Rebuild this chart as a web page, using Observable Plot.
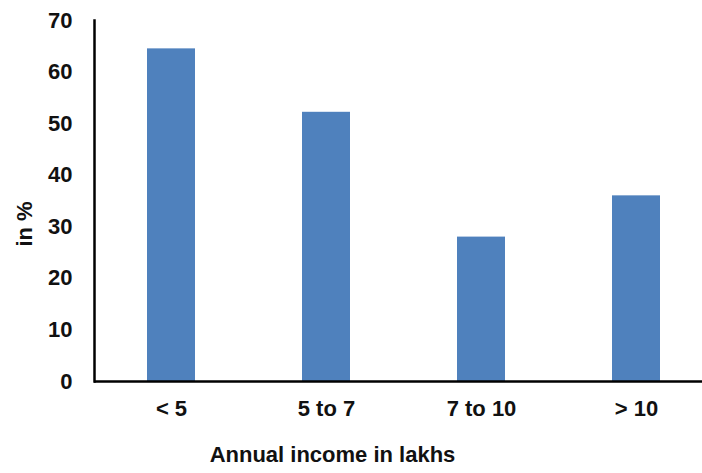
<!DOCTYPE html>
<html>
<head>
<meta charset="utf-8">
<script src="https://cdn.jsdelivr.net/npm/d3@7"></script>
<script src="https://cdn.jsdelivr.net/npm/@observablehq/plot@0.6"></script>
<style>
  html, body { margin: 0; padding: 0; background: #fff; }
  svg text { font-family: "Liberation Sans", Arial, sans-serif; font-weight: bold; }
</style>
</head>
<body>
<div id="chart"></div>
<script>
// Share of respondents (%) by annual income bracket
const incomeBrackets = ["< 5", "5 to 7", "7 to 10", "> 10"];
const sharePercent = [64.5, 52.2, 28.0, 36.0];
const yTicks = [0, 10, 20, 30, 40, 50, 60, 70];
const xTitle = "Annual income in lakhs";
const yTitle = "in %";

const rows = incomeBrackets.map((bracket, i) => ({bracket, value: sharePercent[i]}));

const chart = Plot.plot({
  width: 702,
  height: 473,
  marginLeft: 94,
  marginRight: 0,
  marginTop: 20,
  marginBottom: 92,
  style: {fontSize: "22px", color: "#111", background: "#fff"},
  x: {domain: incomeBrackets, range: [94, 714], paddingInner: 0.69, paddingOuter: 0.345, label: null},
  y: {domain: [0, 70], label: null},
  marks: [
    Plot.barY(rows, {x: "bracket", y: "value", fill: "#4F81BD"}),
    Plot.axisY({ticks: yTicks, tickSize: 0, tickPadding: 22, label: null}),
    Plot.axisX({tickSize: 0, tickPadding: 19, label: null}),
    Plot.ruleY([0], {stroke: "#000", strokeWidth: 2.5}),
    Plot.frame({anchor: "left", stroke: "#000", strokeWidth: 2.5}),
    // axis titles, placed relative to the plot frame
    Plot.text([xTitle], {text: d => d, frameAnchor: "bottom-left", textAnchor: "middle", dx: 238, dy: 80, fontSize: 22, fill: "#111"}),
    Plot.text([yTitle], {text: d => d, frameAnchor: "left", textAnchor: "middle", dx: -70, dy: 23, rotate: -90, fontSize: 22, fill: "#111"})
  ]
});

document.getElementById("chart").appendChild(chart);
</script>
</body>
</html>
